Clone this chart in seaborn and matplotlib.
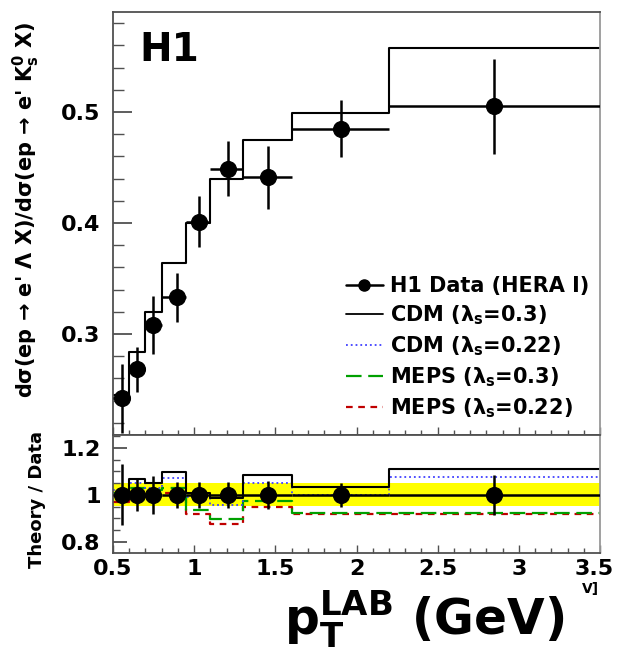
import numpy as np
import pandas as pd
import matplotlib
matplotlib.use('Agg')
import matplotlib.pyplot as plt
import matplotlib.transforms as mtransforms
from matplotlib.lines import Line2D
from matplotlib.ticker import MultipleLocator
import seaborn as sns

# ==================== 数据 ====================
BIN_EDGES = [0.5, 0.6, 0.7, 0.8, 0.95, 1.1, 1.3, 1.6, 2.2, 3.5]
DATA_X = [0.555, 0.65, 0.746, 0.894, 1.03, 1.21, 1.455, 1.905, 2.85]
DATA_Y = [0.242, 0.268, 0.308, 0.333, 0.401, 0.449, 0.441, 0.485, 0.505]
DATA_ERR = [0.031, 0.020, 0.026, 0.022, 0.023, 0.025, 0.028, 0.026, 0.043]
CDM_03 = [0.245, 0.284, 0.320, 0.364, 0.400, 0.440, 0.475, 0.499, 0.558]

# 下方比值面板
RATIO_ERR = [0.13, 0.07, 0.08, 0.055, 0.055, 0.055, 0.06, 0.05, 0.085]
R_CDM_03 = [1.00, 1.068, 1.05, 1.098, 1.008, 0.987, 1.085, 1.034, 1.11]
R_CDM_022 = [1.02, 1.05, 1.03, 1.07, 0.99, 0.957, 1.05, 1.00, 1.077]
R_MEPS_03 = [1.01, 1.03, 1.02, 1.03, 0.936, 0.898, 0.975, 0.925, 0.925]
R_MEPS_022 = [0.97, 0.99, 1.00, 1.01, 0.92, 0.877, 0.949, 0.92, 0.92]
BAND = [0.955, 1.05]

X_TICKS = [0.5, 1, 1.5, 2, 2.5, 3, 3.5]
X_TICK_LABELS = ['0.5', '1', '1.5', '2', '2.5', '3', '3.5']
LEGEND_LABELS = ['H1 Data (HERA I)', r'CDM ($\lambda_s$=0.3)', r'CDM ($\lambda_s$=0.22)',
                 r'MEPS ($\lambda_s$=0.3)', r'MEPS ($\lambda_s$=0.22)']

# ==================== 样式 ====================
sns.set_theme(style='ticks')
plt.rcParams['font.family'] = ['DejaVu Sans']
plt.rcParams['font.weight'] = 'bold'
plt.rcParams['text.color'] = 'black'
plt.rcParams['mathtext.fontset'] = 'dejavusans'
plt.rcParams['mathtext.default'] = 'bf'

FRAME = '#505050'


def steps(ax, values, **kw):
    """用 seaborn 画阶梯直方线"""
    df = pd.DataFrame({'x': BIN_EDGES, 'y': list(values) + [values[-1]]})
    sns.lineplot(data=df, x='x', y='y', drawstyle='steps-post', ax=ax,
                 estimator=None, sort=False, **kw)


def style_axes(ax):
    for s in ax.spines.values():
        s.set_color(FRAME)
        s.set_linewidth(1.3)
    ax.spines['right'].set_color('#999999')
    ax.tick_params(which='both', direction='in', colors=FRAME, labelcolor='black',
                   right=False, top=False)
    ax.set_xlabel('')
    ax.set_ylabel('')


fig = plt.figure(figsize=(6.18, 6.52), dpi=100)
ax1 = fig.add_axes([113 / 618, 1 - 435 / 652, 487 / 618, 423 / 652])
ax2 = fig.add_axes([113 / 618, 1 - 553 / 652, 487 / 618, 118 / 652], sharex=ax1)

xerr = [np.array(DATA_X) - np.array(BIN_EDGES[:-1]), np.array(BIN_EDGES[1:]) - np.array(DATA_X)]

# ---- 上方面板 ----
steps(ax1, CDM_03, color='black', linewidth=1.5)
ax1.errorbar(DATA_X, DATA_Y, yerr=DATA_ERR, xerr=xerr, fmt='none', ecolor='black',
             elinewidth=1.8, zorder=4)
sns.scatterplot(x=DATA_X, y=DATA_Y, ax=ax1, color='black', s=130, edgecolor='black', zorder=5)
ax1.set_ylim(0.209, 0.59)
ax1.set_xlim(0.5, 3.5)
ax1.yaxis.set_major_locator(MultipleLocator(0.1))
ax1.yaxis.set_minor_locator(MultipleLocator(0.02))
ax1.xaxis.set_major_locator(MultipleLocator(0.5))
ax1.xaxis.set_minor_locator(MultipleLocator(0.1))
style_axes(ax1)
ax1.tick_params(axis='y', which='major', length=14, width=1.3, labelsize=16, pad=9)
ax1.tick_params(axis='y', which='minor', length=8, width=1.0)
ax1.tick_params(axis='x', which='major', length=6, width=1.0, labelbottom=False)
ax1.tick_params(axis='x', which='minor', length=3.5, width=1.0)
for lab in ax1.get_yticklabels():
    lab.set_fontweight('bold')
ax1.text(0.055, 0.955, 'H1', transform=ax1.transAxes, fontsize=28, fontweight='bold',
         va='top', ha='left', color='black')

handles = [
    Line2D([], [], color='black', marker='o', markersize=8, linewidth=1.8),
    Line2D([], [], color='black', linewidth=1.3),
    Line2D([], [], color='#4040ff', linewidth=1.3, linestyle=':'),
    Line2D([], [], color='#00a000', linewidth=1.6, dashes=(7, 3)),
    Line2D([], [], color='#c00000', linewidth=1.6, dashes=(3, 2.5)),
]
leg = ax1.legend(handles, LEGEND_LABELS, loc='lower right', bbox_to_anchor=(1.0, 0.01),
                 frameon=False, fontsize=15, handlelength=1.8, handletextpad=0.35,
                 labelspacing=0.36, borderaxespad=0.1)
for t in leg.get_texts():
    t.set_fontweight('bold')
    t.set_color('black')

# ---- 下方比值面板 ----
ax2.axhspan(BAND[0], BAND[1], color='#ffff00', zorder=0, lw=0)
steps(ax2, R_MEPS_022, color='#c00000', linewidth=1.6, dashes=(3, 2.5))
steps(ax2, R_MEPS_03, color='#00a000', linewidth=1.6, dashes=(7, 3))
steps(ax2, R_CDM_022, color='#4040ff', linewidth=1.3, linestyle=':')
steps(ax2, R_CDM_03, color='black', linewidth=1.5)
ones = np.ones(len(DATA_X))
ax2.errorbar(DATA_X, ones, yerr=RATIO_ERR, xerr=xerr, fmt='none', ecolor='black',
             elinewidth=1.8, zorder=4)
sns.scatterplot(x=DATA_X, y=ones, ax=ax2, color='black', s=130, edgecolor='black', zorder=5)
ax2.set_ylim(0.753, 1.255)
ax2.set_xlim(0.5, 3.5)
ax2.yaxis.set_minor_locator(MultipleLocator(0.05))
style_axes(ax2)
ax2.set_yticks([0.8, 1.0, 1.2])
ax2.set_yticklabels(['0.8', '1', '1.2'])
ax2.tick_params(axis='y', which='major', length=10, width=1.3, labelsize=16, pad=9)
ax2.tick_params(axis='y', which='minor', length=5, width=1.0)
ax2.tick_params(axis='x', which='major', length=6, width=1.0, labelsize=16, pad=4)
ax2.tick_params(axis='x', which='minor', length=3.5, width=1.0)
ax2.set_xticks(X_TICKS)
ax2.set_xticklabels(X_TICK_LABELS)
for lab in ax2.get_xticklabels() + ax2.get_yticklabels():
    lab.set_fontweight('bold')
# 最后一个刻度标签稍微左移，避免被裁掉
last = ax2.get_xticklabels()[-1]
last.set_transform(last.get_transform() + mtransforms.ScaledTranslation(-4 / 72, 0, fig.dpi_scale_trans))

# ---- 轴标题 ----
fig.text(26 / 618, 1 - 210 / 652,
         "d$\\sigma$(ep → e' $\\Lambda$ X)/d$\\sigma$(ep → e' K$^0_s$ X)",
         rotation=90, ha='center', va='center', fontsize=15, fontweight='bold')
fig.text(37 / 618, 1 - 499 / 652, 'Theory / Data', rotation=90, ha='center', va='center',
         fontsize=13, fontweight='bold')
fig.text(424 / 618, 1 - 634 / 652, r'p$_T^{LAB}$ (GeV)', ha='center', va='baseline',
         fontsize=35, fontweight='bold')
fig.text(590 / 618, 1 - 589 / 652, 'V]', ha='center', va='center', fontsize=10,
         fontweight='bold')

fig.savefig('out.png', dpi=100)
